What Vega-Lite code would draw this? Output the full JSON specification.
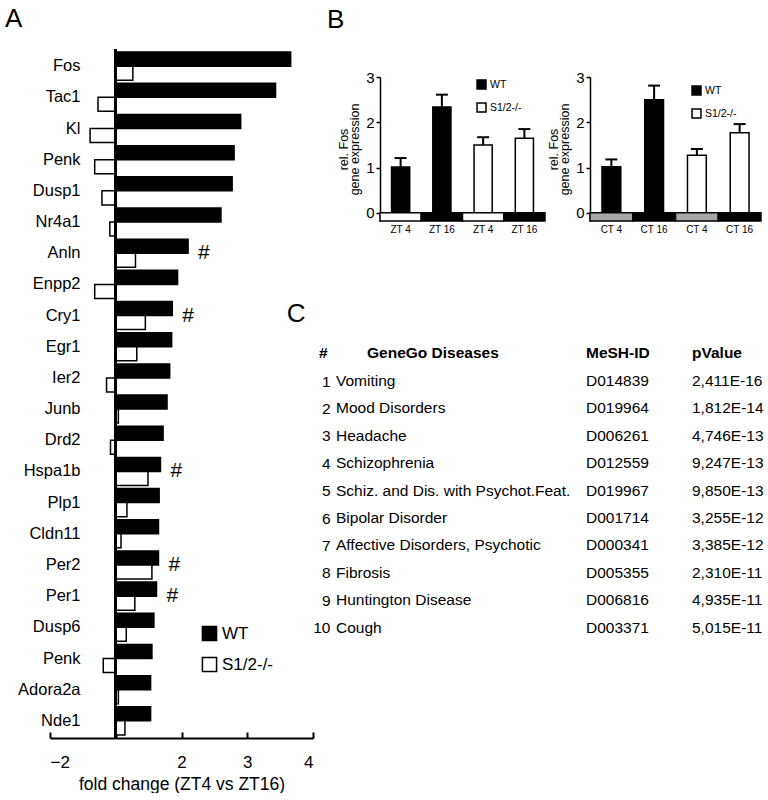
{
  "$schema": "https://vega.github.io/schema/vega-lite/v6.json",
  "background": "white",
  "padding": {"left": 5, "top": 6, "right": 0, "bottom": 0},
  "config": {
    "font": "Liberation Sans",
    "view": {"stroke": null},
    "axis": {"labelColor": "black", "titleColor": "black", "domainColor": "black", "tickColor": "black", "grid": false, "titleFontWeight": "normal"},
    "legend": {"labelColor": "black"},
    "title": {"color": "black", "fontWeight": "normal"}
  },
  "datasets": {
    "table": [
      {"num": 1, "col": "GeneGo Diseases", "text": "Vomiting"},
      {"num": 2, "col": "GeneGo Diseases", "text": "Mood Disorders"},
      {"num": 3, "col": "GeneGo Diseases", "text": "Headache"},
      {"num": 4, "col": "GeneGo Diseases", "text": "Schizophrenia"},
      {"num": 5, "col": "GeneGo Diseases", "text": "Schiz. and Dis. with Psychot.Feat."},
      {"num": 6, "col": "GeneGo Diseases", "text": "Bipolar Disorder"},
      {"num": 7, "col": "GeneGo Diseases", "text": "Affective Disorders, Psychotic"},
      {"num": 8, "col": "GeneGo Diseases", "text": "Fibrosis"},
      {"num": 9, "col": "GeneGo Diseases", "text": "Huntington Disease"},
      {"num": 10, "col": "GeneGo Diseases", "text": "Cough"},
      {"num": 1, "col": "MeSH-ID", "text": "D014839"},
      {"num": 2, "col": "MeSH-ID", "text": "D019964"},
      {"num": 3, "col": "MeSH-ID", "text": "D006261"},
      {"num": 4, "col": "MeSH-ID", "text": "D012559"},
      {"num": 5, "col": "MeSH-ID", "text": "D019967"},
      {"num": 6, "col": "MeSH-ID", "text": "D001714"},
      {"num": 7, "col": "MeSH-ID", "text": "D000341"},
      {"num": 8, "col": "MeSH-ID", "text": "D005355"},
      {"num": 9, "col": "MeSH-ID", "text": "D006816"},
      {"num": 10, "col": "MeSH-ID", "text": "D003371"},
      {"num": 1, "col": "pValue", "text": "2,411E-16"},
      {"num": 2, "col": "pValue", "text": "1,812E-14"},
      {"num": 3, "col": "pValue", "text": "4,746E-13"},
      {"num": 4, "col": "pValue", "text": "9,247E-13"},
      {"num": 5, "col": "pValue", "text": "9,850E-13"},
      {"num": 6, "col": "pValue", "text": "3,255E-12"},
      {"num": 7, "col": "pValue", "text": "3,385E-12"},
      {"num": 8, "col": "pValue", "text": "2,310E-11"},
      {"num": 9, "col": "pValue", "text": "4,935E-11"},
      {"num": 10, "col": "pValue", "text": "5,015E-11"}
    ]
  },
  "hconcat": [
    {
      "width": 263,
      "height": 689,
      "title": {"text": "A", "anchor": "start", "frame": "group", "dx": -45, "fontSize": 26, "offset": 16},
      "data": {"values": [
        {"row": 1, "gene": "Fos", "genotype": "WT", "value": 2.66, "sig": ""},
        {"row": 1, "gene": "Fos", "genotype": "S1/2-/-", "value": 0.26, "sig": ""},
        {"row": 2, "gene": "Tac1", "genotype": "WT", "value": 2.43, "sig": ""},
        {"row": 2, "gene": "Tac1", "genotype": "S1/2-/-", "value": -0.27, "sig": ""},
        {"row": 3, "gene": "Kl", "genotype": "WT", "value": 1.90, "sig": ""},
        {"row": 3, "gene": "Kl", "genotype": "S1/2-/-", "value": -0.39, "sig": ""},
        {"row": 4, "gene": "Penk", "genotype": "WT", "value": 1.80, "sig": ""},
        {"row": 4, "gene": "Penk", "genotype": "S1/2-/-", "value": -0.32, "sig": ""},
        {"row": 5, "gene": "Dusp1", "genotype": "WT", "value": 1.77, "sig": ""},
        {"row": 5, "gene": "Dusp1", "genotype": "S1/2-/-", "value": -0.21, "sig": ""},
        {"row": 6, "gene": "Nr4a1", "genotype": "WT", "value": 1.60, "sig": ""},
        {"row": 6, "gene": "Nr4a1", "genotype": "S1/2-/-", "value": -0.09, "sig": ""},
        {"row": 7, "gene": "Anln", "genotype": "WT", "value": 1.10, "sig": "#"},
        {"row": 7, "gene": "Anln", "genotype": "S1/2-/-", "value": 0.30, "sig": ""},
        {"row": 8, "gene": "Enpp2", "genotype": "WT", "value": 0.94, "sig": ""},
        {"row": 8, "gene": "Enpp2", "genotype": "S1/2-/-", "value": -0.32, "sig": ""},
        {"row": 9, "gene": "Cry1", "genotype": "WT", "value": 0.86, "sig": "#"},
        {"row": 9, "gene": "Cry1", "genotype": "S1/2-/-", "value": 0.45, "sig": ""},
        {"row": 10, "gene": "Egr1", "genotype": "WT", "value": 0.85, "sig": ""},
        {"row": 10, "gene": "Egr1", "genotype": "S1/2-/-", "value": 0.32, "sig": ""},
        {"row": 11, "gene": "Ier2", "genotype": "WT", "value": 0.82, "sig": ""},
        {"row": 11, "gene": "Ier2", "genotype": "S1/2-/-", "value": -0.14, "sig": ""},
        {"row": 12, "gene": "Junb", "genotype": "WT", "value": 0.78, "sig": ""},
        {"row": 12, "gene": "Junb", "genotype": "S1/2-/-", "value": 0.04, "sig": ""},
        {"row": 13, "gene": "Drd2", "genotype": "WT", "value": 0.72, "sig": ""},
        {"row": 13, "gene": "Drd2", "genotype": "S1/2-/-", "value": -0.08, "sig": ""},
        {"row": 14, "gene": "Hspa1b", "genotype": "WT", "value": 0.68, "sig": "#"},
        {"row": 14, "gene": "Hspa1b", "genotype": "S1/2-/-", "value": 0.49, "sig": ""},
        {"row": 15, "gene": "Plp1", "genotype": "WT", "value": 0.66, "sig": ""},
        {"row": 15, "gene": "Plp1", "genotype": "S1/2-/-", "value": 0.17, "sig": ""},
        {"row": 16, "gene": "Cldn11", "genotype": "WT", "value": 0.65, "sig": ""},
        {"row": 16, "gene": "Cldn11", "genotype": "S1/2-/-", "value": 0.08, "sig": ""},
        {"row": 17, "gene": "Per2", "genotype": "WT", "value": 0.65, "sig": "#"},
        {"row": 17, "gene": "Per2", "genotype": "S1/2-/-", "value": 0.55, "sig": ""},
        {"row": 18, "gene": "Per1", "genotype": "WT", "value": 0.62, "sig": "#"},
        {"row": 18, "gene": "Per1", "genotype": "S1/2-/-", "value": 0.29, "sig": ""},
        {"row": 19, "gene": "Dusp6", "genotype": "WT", "value": 0.58, "sig": ""},
        {"row": 19, "gene": "Dusp6", "genotype": "S1/2-/-", "value": 0.16, "sig": ""},
        {"row": 20, "gene": " Penk", "genotype": "WT", "value": 0.55, "sig": ""},
        {"row": 20, "gene": " Penk", "genotype": "S1/2-/-", "value": -0.19, "sig": ""},
        {"row": 21, "gene": "Adora2a", "genotype": "WT", "value": 0.53, "sig": ""},
        {"row": 21, "gene": "Adora2a", "genotype": "S1/2-/-", "value": 0.04, "sig": ""},
        {"row": 22, "gene": "Nde1", "genotype": "WT", "value": 0.53, "sig": ""},
        {"row": 22, "gene": "Nde1", "genotype": "S1/2-/-", "value": 0.14, "sig": ""}
      ]},
      "layer": [
        {
          "mark": {"type": "bar", "stroke": "black", "strokeWidth": 1.5},
          "encoding": {
            "y": {"field": "gene", "type": "nominal", "sort": {"field": "row", "op": "min"},
                  "scale": {"paddingInner": 0.1, "paddingOuter": 0.1},
                  "axis": {"title": null, "domain": false, "ticks": false, "labelPadding": -30, "labelFontSize": 16.5}},
            "yOffset": {"field": "genotype", "type": "nominal", "sort": ["WT", "S1/2-/-"]},
            "x": {"field": "value", "type": "quantitative",
                  "scale": {"domain": [-1, 3], "nice": false, "zero": false},
                  "axis": {"title": "fold change (ZT4 vs ZT16)", "values": [-1, 0, 1, 2, 3],
                           "labelExpr": "datum.value < 0 ? format(datum.value - 1, 'd') : (datum.value == 0 ? '' : format(datum.value + 1, 'd'))",
                           "domainWidth": 2, "tickWidth": 2, "tickSize": -6, "labelPadding": 22,
                           "labelFontSize": 17, "titleFontSize": 17.5, "titlePadding": 5}},
            "fill": {"field": "genotype", "type": "nominal",
                     "scale": {"domain": ["WT", "S1/2-/-"], "range": ["black", "white"]},
                     "legend": {"title": null, "orient": "none", "legendX": 151, "legendY": 576, "symbolType": "square",
                                "symbolSize": 200, "symbolStrokeColor": "black", "symbolStrokeWidth": 1.5,
                                "labelFontSize": 17, "rowPadding": 10, "labelOffset": 4}}
          }
        },
        {"mark": {"type": "rule", "strokeWidth": 2, "color": "black"}, "encoding": {"x": {"datum": 0}}},
        {
          "mark": {"type": "text", "align": "left", "baseline": "middle", "dx": 10, "fontSize": 21},
          "encoding": {
            "y": {"field": "gene", "type": "nominal", "sort": {"field": "row", "op": "min"}},
            "x": {"field": "value", "type": "quantitative"},
            "text": {"field": "sig"}
          }
        }
      ]
    },
    {
      "vconcat": [
        {
          "hconcat": [
            {
              "width": 209,
              "height": 172,
              "title": {"text": "B", "anchor": "start", "frame": "group", "dx": -9, "fontSize": 26, "offset": 16},
              "data": {"values": [
                {"cat": "WT ZT 4", "geno": "WT", "phase": "light", "mean": 1.01, "upper": 1.21},
                {"cat": "WT ZT 16", "geno": "WT", "phase": "dark", "mean": 2.34, "upper": 2.61},
                {"cat": "S1/2-/- ZT 4", "geno": "S1/2-/-", "phase": "light", "mean": 1.50, "upper": 1.67},
                {"cat": "S1/2-/- ZT 16", "geno": "S1/2-/-", "phase": "dark", "mean": 1.65, "upper": 1.85}
              ]},
              "encoding": {
                "x": {"field": "cat", "type": "nominal", "sort": null,
                      "scale": {"type": "band", "paddingInner": 0, "paddingOuter": 0.5333, "align": 1},
                      "axis": {"title": null, "domain": false, "ticks": false, "labelAngle": 0, "labelFontSize": 10, "labelPadding": 3,
                               "labelExpr": "slice(datum.label, indexof(datum.label, ' ') + 1)"}}
              },
              "layer": [
                {
                  "mark": {"type": "bar", "stroke": "black", "strokeWidth": 1.5, "width": {"band": 0.44}},
                  "encoding": {
                    "y": {"field": "mean", "type": "quantitative",
                          "scale": {"domain": [-0.18, 3], "range": [172, 28], "nice": false, "zero": false},
                          "axis": {"title": ["rel. Fos", "gene expression"], "values": [0, 1, 2, 3], "format": "d", "offset": -44,
                                   "domainWidth": 1.5, "tickWidth": 1.5, "tickSize": 4, "labelPadding": 2, "labelFontSize": 15,
                                   "titleFontSize": 12.5, "titlePadding": 4, "titleLineHeight": 11}},
                    "fill": {"field": "geno", "type": "nominal",
                             "scale": {"domain": ["WT", "S1/2-/-"], "range": ["black", "white"]},
                             "legend": {"title": null, "orient": "none", "legendX": 140, "legendY": 30, "symbolType": "square",
                                        "symbolSize": 80, "symbolStrokeColor": "black", "symbolStrokeWidth": 1.5,
                                        "labelFontSize": 10.5, "rowPadding": 8, "labelOffset": 3}}
                  }
                },
                {
                  "mark": {"type": "bar", "stroke": "black", "strokeWidth": 1.5, "width": {"band": 1}},
                  "encoding": {
                    "y": {"datum": 0, "type": "quantitative"},
                    "y2": {"datum": -0.18},
                    "fill": {"condition": {"test": "datum.phase == 'light'", "value": "white"}, "value": "black"}
                  }
                },
                {
                  "mark": {"type": "rule", "strokeWidth": 2, "color": "black"},
                  "encoding": {"y": {"field": "mean", "type": "quantitative"}, "y2": {"field": "upper"}}
                },
                {
                  "mark": {"type": "tick", "thickness": 2, "size": 12, "color": "black", "opacity": 1},
                  "encoding": {"y": {"field": "upper", "type": "quantitative"}}
                }
              ]
            },
            {
              "width": 171,
              "height": 172,
              "data": {"values": [
                {"cat": "WT CT 4", "geno": "WT", "phase": "light", "mean": 1.02, "upper": 1.18},
                {"cat": "WT CT 16", "geno": "WT", "phase": "dark", "mean": 2.50, "upper": 2.81},
                {"cat": "S1/2-/- CT 4", "geno": "S1/2-/-", "phase": "light", "mean": 1.27, "upper": 1.41},
                {"cat": "S1/2-/- CT 16", "geno": "S1/2-/-", "phase": "dark", "mean": 1.77, "upper": 1.96}
              ]},
              "encoding": {
                "x": {"field": "cat", "type": "nominal", "sort": null,
                      "scale": {"type": "band", "paddingInner": 0, "paddingOuter": 0},
                      "axis": {"title": null, "domain": false, "ticks": false, "labelAngle": 0, "labelFontSize": 10, "labelPadding": 3,
                               "labelExpr": "slice(datum.label, indexof(datum.label, ' ') + 1)"}}
              },
              "layer": [
                {
                  "mark": {"type": "bar", "stroke": "black", "strokeWidth": 1.5, "width": {"band": 0.44}},
                  "encoding": {
                    "y": {"field": "mean", "type": "quantitative",
                          "scale": {"domain": [-0.18, 3], "range": [172, 28], "nice": false, "zero": false},
                          "axis": {"title": ["rel. Fos", "gene expression"], "values": [0, 1, 2, 3], "format": "d",
                                   "domainWidth": 1.5, "tickWidth": 1.5, "tickSize": 4, "labelPadding": 2, "labelFontSize": 15,
                                   "titleFontSize": 12.5, "titlePadding": 4, "titleLineHeight": 11}},
                    "fill": {"field": "geno", "type": "nominal",
                             "scale": {"domain": ["WT", "S1/2-/-"], "range": ["black", "white"]},
                             "legend": {"title": null, "orient": "none", "legendX": 101, "legendY": 36, "symbolType": "square",
                                        "symbolSize": 80, "symbolStrokeColor": "black", "symbolStrokeWidth": 1.5,
                                        "labelFontSize": 10.5, "rowPadding": 8, "labelOffset": 3}}
                  }
                },
                {
                  "mark": {"type": "bar", "stroke": "black", "strokeWidth": 1.5, "width": {"band": 1}},
                  "encoding": {
                    "y": {"datum": 0, "type": "quantitative"},
                    "y2": {"datum": -0.18},
                    "fill": {"condition": {"test": "datum.phase == 'light'", "value": "#a8a8a8"}, "value": "black"}
                  }
                },
                {
                  "mark": {"type": "rule", "strokeWidth": 2, "color": "black"},
                  "encoding": {"y": {"field": "mean", "type": "quantitative"}, "y2": {"field": "upper"}}
                },
                {
                  "mark": {"type": "tick", "thickness": 2, "size": 12, "color": "black", "opacity": 1},
                  "encoding": {"y": {"field": "upper", "type": "quantitative"}}
                }
              ]
            }
          ],
          "bounds": "flush",
          "spacing": 45,
          "resolve": {"scale": {"fill": "independent"}, "legend": {"fill": "independent"}}
        },
        {
          "title": {"text": "C", "anchor": "start", "frame": "bounds", "dx": -26, "fontSize": 26, "offset": 18},
          "hconcat": [
            {
              "width": 240,
              "height": 274,
              "data": {"name": "table"},
              "transform": [{"filter": "datum.col == 'GeneGo Diseases'"}],
              "mark": {"type": "text", "align": "left", "baseline": "middle", "fontSize": 15.5},
              "encoding": {
                "y": {"field": "num", "type": "ordinal",
                      "axis": {"title": "#", "titleAngle": 0, "titleFontWeight": "bold", "titleFontSize": 15.5,
                               "titleX": -9, "titleY": -15, "titleAlign": "right", "titleBaseline": "middle",
                               "domain": false, "ticks": false, "labelPadding": 6, "labelFontSize": 15.5}},
                "x": {"field": "col", "type": "nominal", "bandPosition": 0,
                      "scale": {"type": "band", "paddingInner": 0, "paddingOuter": 0},
                      "axis": {"orient": "top", "title": null, "domain": false, "ticks": false, "labelAngle": 0,
                               "labelAlign": "left", "labelBaseline": "middle", "labelOffset": -89, "labelPadding": 15,
                               "labelFontSize": 15.5, "labelFontWeight": "bold"}},
                "text": {"field": "text"}
              }
            },
            {
              "width": 96,
              "height": 274,
              "data": {"name": "table"},
              "transform": [{"filter": "datum.col == 'MeSH-ID'"}],
              "mark": {"type": "text", "align": "left", "baseline": "middle", "fontSize": 15.5},
              "encoding": {
                "y": {"field": "num", "type": "ordinal", "axis": null},
                "x": {"field": "col", "type": "nominal", "bandPosition": 0,
                      "scale": {"type": "band", "paddingInner": 0, "paddingOuter": 0},
                      "axis": {"orient": "top", "title": null, "domain": false, "ticks": false, "labelAngle": 0,
                               "labelAlign": "left", "labelBaseline": "middle", "labelOffset": -48, "labelPadding": 15,
                               "labelFontSize": 15.5, "labelFontWeight": "bold"}},
                "text": {"field": "text"}
              }
            },
            {
              "width": 70,
              "height": 274,
              "data": {"name": "table"},
              "transform": [{"filter": "datum.col == 'pValue'"}],
              "mark": {"type": "text", "align": "left", "baseline": "middle", "fontSize": 15.5},
              "encoding": {
                "y": {"field": "num", "type": "ordinal", "axis": null},
                "x": {"field": "col", "type": "nominal", "bandPosition": 0,
                      "scale": {"type": "band", "paddingInner": 0, "paddingOuter": 0},
                      "axis": {"orient": "top", "title": null, "domain": false, "ticks": false, "labelAngle": 0,
                               "labelAlign": "left", "labelBaseline": "middle", "labelOffset": -35, "labelPadding": 15,
                               "labelFontSize": 15.5, "labelFontWeight": "bold"}},
                "text": {"field": "text"}
              }
            }
          ],
          "bounds": "flush",
          "spacing": 10
        }
      ],
      "bounds": "flush",
      "spacing": 318.3,
      "resolve": {"scale": {"fill": "independent"}, "legend": {"fill": "independent"}}
    }
  ],
  "bounds": "flush",
  "spacing": 23,
  "resolve": {"scale": {"fill": "independent"}, "legend": {"fill": "independent"}}
}
